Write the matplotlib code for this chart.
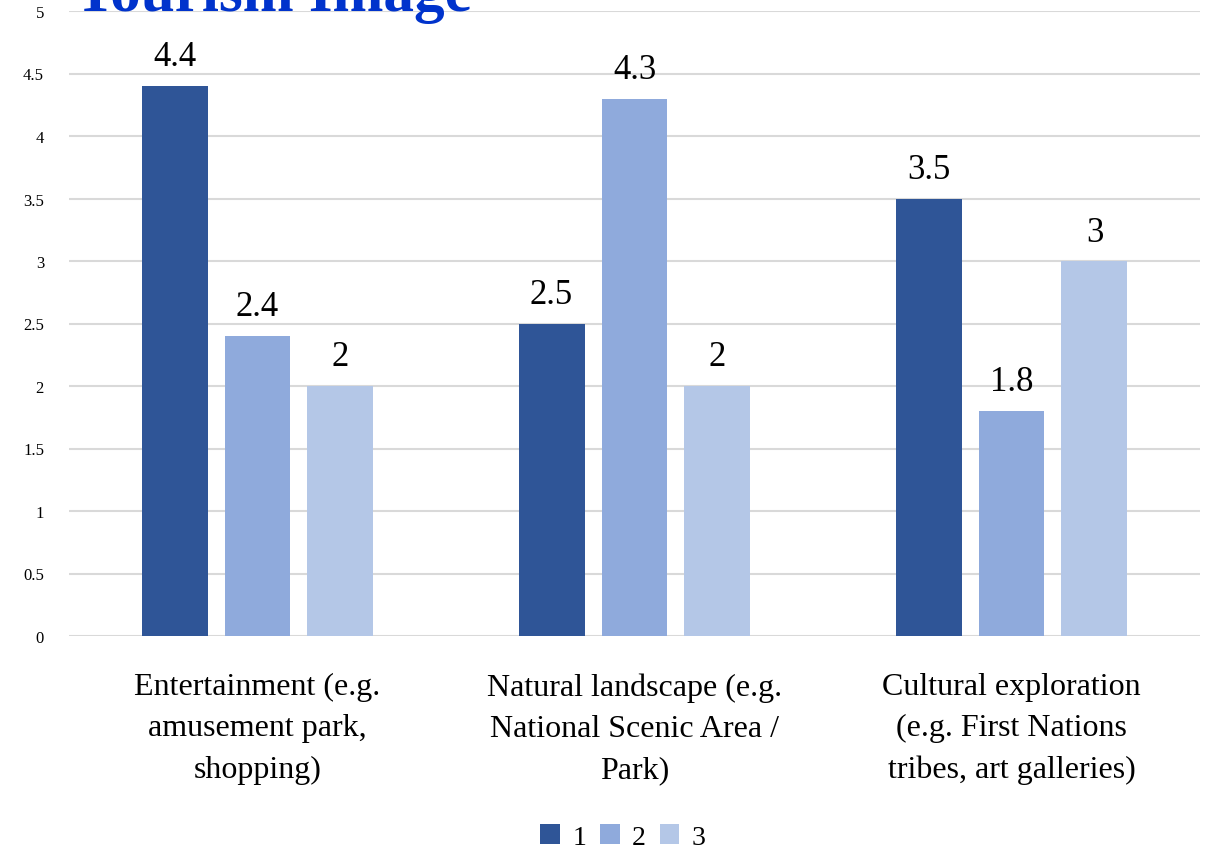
import matplotlib
matplotlib.use("Agg")
import matplotlib.pyplot as plt
import numpy as np

categories = ["Entertainment (e.g.\namusement park,\nshopping)",
              "Natural landscape (e.g.\nNational Scenic Area /\nPark)",
              "Cultural exploration\n(e.g. First Nations\ntribes, art galleries)"]
series_names = ["1", "2", "3"]
series_values = [
    [4.4, 2.5, 3.5],
    [2.4, 4.3, 1.8],
    [2.0, 2.0, 3.0],
]
colors = ["#2F5597", "#8FAADC", "#B4C7E7"]
yticks = [0, 0.5, 1, 1.5, 2, 2.5, 3, 3.5, 4, 4.5, 5]
title = "Tourism Image"

plt.rcParams['font.family'] = ['Liberation Serif', 'DejaVu Serif']

fig = plt.figure(figsize=(12.06, 8.54), dpi=100)
ax = fig.add_axes([69/1206, 217/854, (1200-69)/1206, (637-12)/854])

x = np.arange(len(categories))
width = 0.175
step = 0.22
for i, (name, vals) in enumerate(zip(series_names, series_values)):
    pos = x + (i - 1) * step
    bars = ax.bar(pos, vals, width=width, color=colors[i], label=name, zorder=3)
    for b, v in zip(bars, vals):
        lab = f"{v:g}"
        ax.annotate(lab, (b.get_x() + b.get_width()/2, v), xytext=(0, 9),
                    textcoords="offset points", ha="center", va="bottom",
                    fontsize=25, color="black")

ax.set_xlim(-0.5, 2.5)
ax.set_ylim(0, 5)
ax.set_yticks(yticks)
ax.set_yticklabels([f"{t:g}" for t in yticks], fontsize=12)
ax.yaxis.grid(True, color="#D9D9D9", linewidth=1.5, zorder=0)
ax.set_axisbelow(True)
for s in ax.spines.values():
    s.set_visible(False)
ax.tick_params(axis="both", length=0)
ax.tick_params(axis="y", pad=18)
ax.set_xticks(x)
ax.set_xticklabels(categories, fontsize=23, linespacing=1.55)
ax.tick_params(axis="x", pad=26)

fig.text(75/1206, 1 - 11/854, title, fontsize=44, fontweight="bold",
         color="#0033CC", ha="left", va="baseline")

leg = fig.legend(loc="center", bbox_to_anchor=(623/1206, 1 - 838/854), ncol=3,
                 frameon=False, fontsize=20, handlelength=0.7, handleheight=0.7,
                 columnspacing=0.5, handletextpad=0.45)

fig.savefig("out.png", dpi=100)
